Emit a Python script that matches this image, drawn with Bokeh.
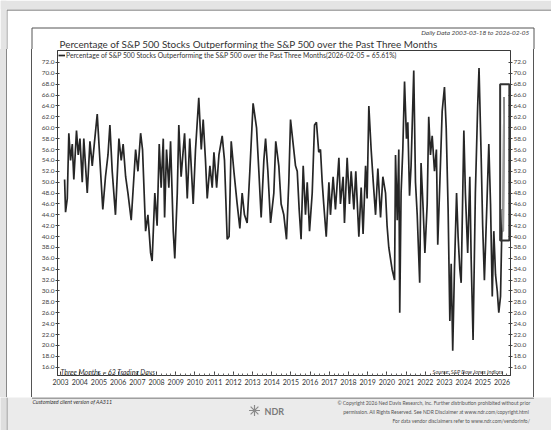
from bokeh.plotting import figure
from bokeh.layouts import column, row
from bokeh.models import (Range1d, LinearAxis, FixedTicker, Label, BoxAnnotation,
                          NumeralTickFormatter, Spacer)
from bokeh.embed import file_html
from bokeh.resources import INLINE

# ---- data (decimal year, % of S&P 500 stocks outperforming the index over 3 months)
years = [2003.21, 2003.26, 2003.35, 2003.43, 2003.52, 2003.61, 2003.69, 2003.83, 2003.92, 2004.01,
         2004.13, 2004.21, 2004.30, 2004.39, 2004.53, 2004.65, 2004.77, 2004.91, 2005.05, 2005.20,
         2005.34, 2005.47, 2005.57, 2005.69, 2005.86, 2006.04, 2006.16, 2006.26, 2006.39, 2006.51,
         2006.68, 2006.91, 2007.03, 2007.17, 2007.27, 2007.43, 2007.55, 2007.69, 2007.77, 2007.91,
         2008.03, 2008.14, 2008.24, 2008.35, 2008.42, 2008.52, 2008.64, 2008.73, 2008.87, 2008.95,
         2009.08, 2009.16, 2009.28, 2009.46, 2009.60, 2009.73, 2009.91, 2010.03, 2010.20, 2010.33,
         2010.43, 2010.55, 2010.64, 2010.78, 2010.90, 2010.99, 2011.13, 2011.25, 2011.42, 2011.54,
         2011.68, 2011.78, 2011.89, 2012.03, 2012.20, 2012.34, 2012.46, 2012.58, 2012.72, 2012.86,
         2013.03, 2013.21, 2013.33, 2013.45, 2013.59, 2013.68, 2013.80, 2013.94, 2014.11, 2014.21,
         2014.37, 2014.49, 2014.63, 2014.77, 2014.89, 2014.98, 2015.24, 2015.33, 2015.43, 2015.53,
         2015.64, 2015.76, 2015.85, 2015.97, 2016.11, 2016.23, 2016.33, 2016.45, 2016.54, 2016.63,
         2016.71, 2016.84, 2016.98, 2017.06, 2017.20, 2017.32, 2017.50, 2017.58, 2017.72, 2017.79,
         2017.93, 2018.05, 2018.14, 2018.28, 2018.38, 2018.54, 2018.66, 2018.76, 2018.89, 2018.97,
         2019.06, 2019.18, 2019.29, 2019.41, 2019.53, 2019.67, 2019.79, 2019.93, 2020.01, 2020.10,
         2020.27, 2020.40, 2020.45, 2020.54, 2020.62, 2020.67, 2020.74, 2020.83, 2020.92, 2021.02,
         2021.09, 2021.18, 2021.26, 2021.40, 2021.49, 2021.58, 2021.71, 2021.78, 2021.89, 2021.98,
         2022.10, 2022.18, 2022.27, 2022.36, 2022.48, 2022.58, 2022.65, 2022.76, 2022.88, 2023.00,
         2023.09, 2023.19, 2023.28, 2023.35, 2023.43, 2023.52, 2023.63, 2023.71, 2023.80, 2023.87,
         2024.01, 2024.09, 2024.21, 2024.32, 2024.39, 2024.49, 2024.61, 2024.73, 2024.80, 2024.91,
         2024.99, 2025.08, 2025.22, 2025.31, 2025.40, 2025.49, 2025.57, 2025.66, 2025.75, 2025.83,
         2025.92, 2026.01, 2026.06, 2026.10]
pct = [50.5, 44.5, 47.0, 59.0, 54.0, 57.0, 50.5, 59.5, 55.0, 58.0,
       50.0, 58.0, 53.0, 48.0, 57.5, 53.0, 57.5, 62.5, 54.0, 45.0,
       51.0, 55.0, 60.5, 52.0, 44.0, 58.0, 54.0, 57.0, 51.0, 48.0,
       43.0, 56.0, 52.0, 59.0, 56.0, 41.0, 44.0, 37.0, 35.5, 48.0,
       42.0, 57.0, 49.0, 58.0, 43.5, 56.0, 49.0, 57.5, 41.0, 36.0,
       48.0, 60.5, 51.0, 59.0, 47.0, 58.0, 46.0, 56.0, 65.5, 56.0,
       61.5, 54.0, 47.0, 53.0, 49.0, 55.5, 49.0, 55.0, 58.5, 54.0,
       39.5, 40.0, 57.5, 52.0, 46.0, 41.5, 48.0, 44.0, 42.5, 52.0,
       64.5, 60.0, 52.0, 43.5, 54.0, 58.0, 52.0, 42.5, 48.0, 57.5,
       53.0, 46.0, 44.0, 39.5, 50.0, 61.5, 53.0, 52.0, 45.0, 39.5,
       53.0, 44.0, 50.0, 41.0, 48.0, 60.5, 61.0, 55.5, 56.0, 50.0,
       46.0, 40.0, 50.0, 44.0, 51.0, 45.0, 54.5, 46.0, 51.0, 42.5,
       54.5, 46.0, 52.0, 45.0, 52.0, 40.0, 49.0, 40.5, 53.0, 47.0,
       64.0, 56.0, 50.0, 44.0, 52.5, 43.5, 51.0, 48.0, 42.0, 38.0,
       34.0, 32.0, 55.0, 43.0, 56.0, 26.0, 48.0, 56.0, 68.5, 58.0,
       61.0, 47.5, 53.0, 70.5, 50.0, 44.0, 31.5, 53.5, 45.0, 37.0,
       46.0, 62.0, 55.0, 58.5, 52.0, 56.0, 38.5, 50.0, 63.0, 67.5,
       60.0, 45.0, 24.5, 35.0, 19.0, 34.0, 48.0, 40.0, 34.0, 31.5,
       59.5, 48.0, 37.0, 51.0, 36.0, 21.0, 48.0, 64.0, 71.0, 55.0,
       42.0, 32.0, 47.0, 57.0, 46.0, 29.0, 41.0, 33.0, 30.0, 26.0,
       29.0, 45.0, 41.0, 65.61]
year_ticks = list(range(2003, 2027))
pct_ticks = list(range(16, 73, 2))

TITLE = "Percentage of S&P 500 Stocks Outperforming the S&P 500 over the Past Three Months"
LEGEND = ("Percentage of S&P 500 Stocks Outperforming the S&P 500 over the Past Three "
          "Months(2026-02-05 = 65.61%)")
SUBTITLE = "Daily Data 2003-03-18 to 2026-02-05"
NOTE = "Three Months = 63 Trading Days"
SOURCE = "Source:  S&P Dow Jones Indices"
CLIENT = "Customized client version of AA311"
COPY = ["\u00a9 Copyright 2026 Ned Davis Research, Inc. Further distribution prohibited without prior",
        "permission. All Rights Reserved. See NDR Disclaimer at  www.ndr.com/copyright.html",
        "For data vendor disclaimers refer to www.ndr.com/vendorinfo/"]

FONT = "Lato"
W = 551
HEAD_H, MID_H, FOOT_H = 49, 348, 33          # page rows
BOX_L, BOX_R, BOX_T = 31, 533, 27            # outer box (page px)
PAGE_L, PAGE_T = 6, 9                        # page edge
MAIN_L, MAIN_W = 32, 501                     # main chart canvas
FL, FR, FT, FB = 57, 510, 50, 375            # plot frame (page px)
LINE = "#555555"


def blank(h, y0, bg="white"):
    """A figure whose frame is the whole canvas; data units = page pixels."""
    f = figure(width=W, height=h, output_backend="svg", toolbar_location=None,
               x_range=Range1d(0, W), y_range=Range1d(y0 + h, y0),
               x_axis_location=None, y_axis_location=None)
    f.min_border_left = f.min_border_right = f.min_border_top = f.min_border_bottom = 0
    f.outline_line_color = None
    f.xgrid.visible = False
    f.ygrid.visible = False
    f.background_fill_color = bg
    f.border_fill_color = bg
    return f


def text(f, txt, x, y, size, align="left", style="normal", color="#333333"):
    f.add_layout(Label(x=x, y=y, text=txt, text_font=FONT, text_font_size=size,
                       text_align=align, text_baseline="middle", text_font_style=style,
                       text_color=color))


# ---------------- header
head = blank(HEAD_H, 0)
head.add_layout(BoxAnnotation(left=0, right=PAGE_L, bottom=HEAD_H, top=0,
                              fill_color="#e4e4e4", fill_alpha=1, line_alpha=0))
head.add_layout(BoxAnnotation(left=0, right=W, bottom=PAGE_T, top=0,
                              fill_color="#e4e4e4", fill_alpha=1, line_alpha=0))
head.segment(x0=[PAGE_L + 0.5, PAGE_L + 0.5, BOX_L + 0.5, BOX_L + 0.5, BOX_R + 0.5],
             y0=[PAGE_T + 0.5, PAGE_T + 0.5, BOX_T + 0.5, BOX_T + 0.5, BOX_T + 0.5],
             x1=[W, PAGE_L + 0.5, BOX_R + 0.5, BOX_L + 0.5, BOX_R + 0.5],
             y1=[PAGE_T + 0.5, HEAD_H, BOX_T + 0.5, HEAD_H, HEAD_H],
             line_color=[LINE, "#888888", LINE, LINE, LINE], line_width=1)
text(head, SUBTITLE, 529, 32, "6.5px", "right", "italic", "#444444")
text(head, TITLE, 59, 43.5, "9.9px", "left", "normal", "#333333")

# ---------------- main chart
p = figure(width=MAIN_W, height=MID_H, output_backend="svg", toolbar_location=None,
           x_range=Range1d(2002.84, 2026.44), y_range=Range1d(14.47, 74.2),
           min_border_left=FL - MAIN_L, min_border_right=MAIN_L + MAIN_W - FR,
           min_border_top=FT - HEAD_H, min_border_bottom=HEAD_H + MID_H - FB)
p.title.visible = False
p.background_fill_color = "white"
p.border_fill_color = "white"
p.outline_line_color = "#3a3a3a"
p.outline_line_width = 1
p.xgrid.visible = False
p.ygrid.visible = False

yl = p.yaxis[0]
yr = LinearAxis()
p.add_layout(yr, "right")
for ax in (yl, yr):
    ax.ticker = FixedTicker(ticks=pct_ticks, minor_ticks=[])
    ax.formatter = NumeralTickFormatter(format="0.0")
    ax.major_label_text_font = FONT
    ax.major_label_text_font_size = "6.5px"
    ax.major_label_text_color = "#444444"
    ax.major_tick_in = 2
    ax.major_tick_out = 2
    ax.major_tick_line_color = "#444444"
    ax.axis_line_color = "#3a3a3a"
    ax.major_label_standoff = 1

xa = p.xaxis[0]
xa.ticker = FixedTicker(ticks=year_ticks,
                        minor_ticks=[y + q / 4 for y in range(2002, 2027) for q in range(4)])
xa.formatter = NumeralTickFormatter(format="0")
xa.major_label_text_font = FONT
xa.major_label_text_font_size = "7px"
xa.major_label_text_color = "#333333"
xa.major_tick_in = 4
xa.major_tick_out = 0
xa.minor_tick_in = 2
xa.minor_tick_out = 0
xa.major_tick_line_color = "#444444"
xa.minor_tick_line_color = "#666666"
xa.axis_line_color = "#3a3a3a"
xa.major_label_standoff = 3

p.line(years, pct, line_color="#262626", line_width=1.7, legend_label=LEGEND)
p.line(years[-3:], pct[-3:], line_color="#9a9a9a", line_width=1.7)

# highlight box around the latest reading
p.add_layout(BoxAnnotation(left=years[-4] - 0.02, right=2026.38,
                           bottom=min(pct[-3:]) - 1.7, top=max(pct[-3:]) + 2.4,
                           fill_alpha=0, line_color="#333333", line_alpha=1, line_width=2))

lg = p.legend[0]
lg.location = "top_left"
lg.margin = 1
lg.padding = 0
lg.spacing = 0
lg.label_height = 6
lg.glyph_height = 6
lg.glyph_width = 7
lg.label_standoff = 1
lg.label_text_font = FONT
lg.label_text_font_size = "6.8px"
lg.label_text_color = "#333333"
lg.border_line_alpha = 0
lg.background_fill_alpha = 0

p.add_layout(Label(x=3, y=4, x_units="screen", y_units="screen", text=NOTE,
                   text_font=FONT, text_font_size="7px", text_font_style="italic",
                   text_baseline="middle", text_color="#333333"))
p.add_layout(Label(x=FR - FL - 6, y=4, x_units="screen", y_units="screen", text=SOURCE,
                   text_font=FONT, text_font_size="5.5px", text_font_style="italic",
                   text_align="right", text_baseline="middle", text_color="#333333"))


def bar(w, color):
    return Spacer(width=w, height=MID_H, styles={"background-color": color})


middle = row(bar(PAGE_L, "#e4e4e4"), bar(1, "#888888"), bar(BOX_L - PAGE_L - 1, "white"),
             bar(1, LINE), p, bar(1, LINE),
             bar(W - MAIN_L - MAIN_W - 1, "white"), spacing=0)

# ---------------- footer
foot = blank(FOOT_H, HEAD_H + MID_H, bg="#ebebeb")
y0 = HEAD_H + MID_H
foot.add_layout(BoxAnnotation(left=0, right=PAGE_L, bottom=y0 + FOOT_H, top=y0,
                              fill_color="#dedede", fill_alpha=1, line_alpha=0))
foot.segment(x0=[BOX_L + 0.5, PAGE_L + 0.5], y0=[y0 + 0.5, y0],
             x1=[BOX_R + 0.5, PAGE_L + 0.5], y1=[y0 + 0.5, y0 + FOOT_H],
             line_color=[LINE, "#888888"], line_width=1)
text(foot, CLIENT, 32, 401.5, "5.4px", "left", "italic", "#333333")
foot.scatter([254], [410], marker="asterisk", size=11, line_color="#8a8a8a", line_width=1.2)
text(foot, "NDR", 264, 411, "9px", "left", "bold", "#7a7a7a")
for i, line_txt in enumerate(COPY):
    text(foot, line_txt, 530, 402 + 9 * i, "5px", "right", "normal", "#555555")

page = column(head, middle, foot, spacing=0)
open("out.html", "w").write(file_html(page, INLINE))
